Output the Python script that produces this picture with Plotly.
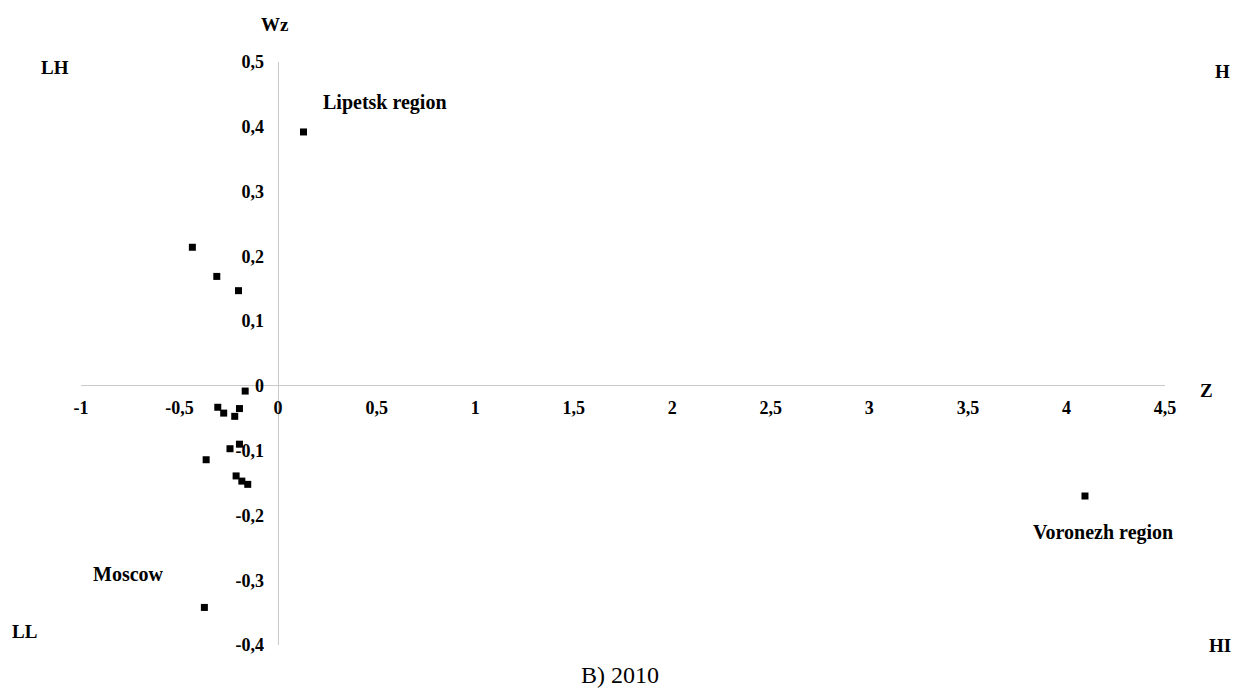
import plotly.graph_objects as go

# Moran scatter: standardized value Z vs spatial lag Wz, 2010
z_vals = [0.129, -0.435, -0.311, -0.201, -0.167, -0.306, -0.276, -0.196, -0.220,
          -0.244, -0.196, -0.365, -0.213, -0.184, -0.154, 4.094, -0.374]
wz_vals = [0.392, 0.214, 0.169, 0.147, -0.008, -0.033, -0.042, -0.035, -0.047,
           -0.097, -0.090, -0.114, -0.139, -0.147, -0.152, -0.170, -0.342]

x_ticks = [-1, -0.5, 0, 0.5, 1, 1.5, 2, 2.5, 3, 3.5, 4, 4.5]
x_tick_text = ["-1", "-0,5", "0", "0,5", "1", "1,5", "2", "2,5", "3", "3,5", "4", "4,5"]
y_ticks = [-0.4, -0.3, -0.2, -0.1, 0, 0.1, 0.2, 0.3, 0.4, 0.5]
y_tick_text = ["-0,4", "-0,3", "-0,2", "-0,1", "0", "0,1", "0,2", "0,3", "0,4", "0,5"]

region_labels = ["Lipetsk region", "Voronezh region", "Moscow"]
region_label_x = [0.543, 4.186, -0.761]
region_label_y = [0.438, -0.227, -0.290]

# quadrant names sit outside the plotting area (paper coordinates)
quadrant_labels = ["LH", "H", "LL", "HI"]
quadrant_px = [-0.024, 1.0526, -0.0517, 1.0507]
quadrant_py = [0.991, 0.983, 0.0223, 0.0]

X_RANGE = [-1, 4.5]
Y_RANGE = [-0.4, 0.5]

SERIF = "Liberation Serif"
AXIS_GREY = "#c9c9c9"

fig = go.Figure()
fig.add_trace(go.Scatter(
    x=z_vals, y=wz_vals, mode="markers",
    marker=dict(symbol="square", size=7, color="black"),
    hoverinfo="x+y", showlegend=False,
))

# axes cross at the origin
x_pos = (0 - Y_RANGE[0]) / (Y_RANGE[1] - Y_RANGE[0])
y_pos = (0 - X_RANGE[0]) / (X_RANGE[1] - X_RANGE[0])

fig.update_layout(
    width=1237, height=691,
    margin=dict(l=81, r=72, t=62, b=46),
    paper_bgcolor="white", plot_bgcolor="white",
    font=dict(family=SERIF, color="black"),
    xaxis=dict(
        range=X_RANGE, showgrid=False, zeroline=True, zerolinecolor=AXIS_GREY,
        zerolinewidth=1, showline=False, ticks="", tickvals=x_ticks,
        ticktext=x_tick_text, anchor="free", position=x_pos,
        tickfont=dict(family=SERIF, size=18, weight="bold", color="black"),
        ticklabelstandoff=9, automargin=False, fixedrange=True,
    ),
    yaxis=dict(
        range=Y_RANGE, showgrid=False, zeroline=True, zerolinecolor=AXIS_GREY,
        zerolinewidth=1, showline=False, ticks="", tickvals=y_ticks,
        ticktext=y_tick_text, anchor="free", position=y_pos,
        tickfont=dict(family=SERIF, size=18, weight="bold", color="black"),
        ticklabelstandoff=14, automargin=False, fixedrange=True,
    ),
)

BOLD = dict(family=SERIF, size=19, weight="bold", color="black")

for txt, lx, ly in zip(region_labels, region_label_x, region_label_y):
    fig.add_annotation(x=lx, y=ly, text=txt, showarrow=False,
                       xanchor="center", yanchor="middle",
                       font=dict(family=SERIF, size=20, weight="bold", color="black"))

for txt, qx, qy in zip(quadrant_labels, quadrant_px, quadrant_py):
    fig.add_annotation(x=qx, y=qy, xref="paper", yref="paper", text=txt,
                       showarrow=False, xanchor="center", yanchor="middle",
                       font=BOLD)

# axis names
fig.add_annotation(x=0.179, y=1.065, xref="paper", yref="paper", text="Wz",
                   showarrow=False, xanchor="center", yanchor="middle", font=BOLD)
fig.add_annotation(x=1.0387, y=0.437, xref="paper", yref="paper", text="Z",
                   showarrow=False, xanchor="center", yanchor="middle", font=BOLD)

# panel caption
fig.add_annotation(x=0.497, y=-0.0515, xref="paper", yref="paper", text="B) 2010",
                   showarrow=False, xanchor="center", yanchor="middle",
                   font=dict(family=SERIF, size=24, color="black"))

fig.write_html("out.html")
